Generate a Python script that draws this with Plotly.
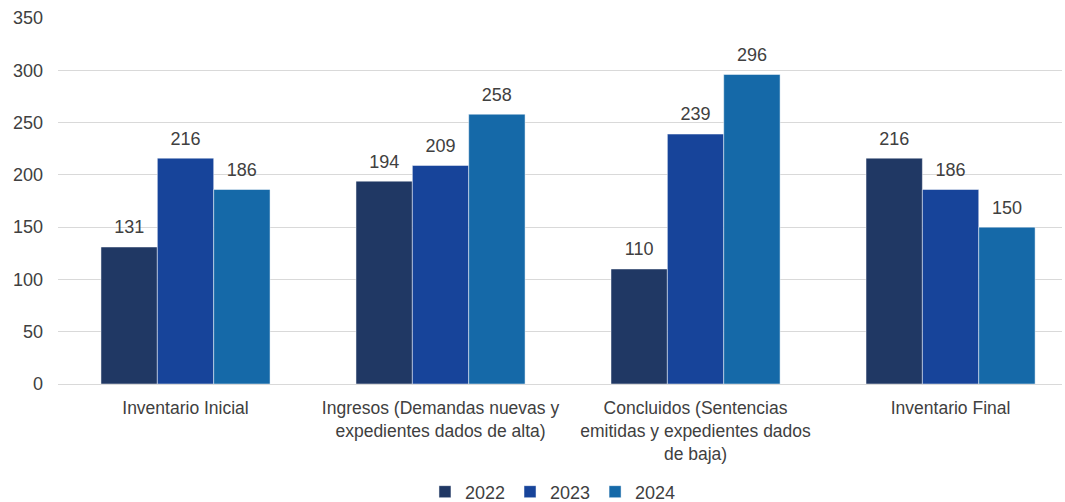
import plotly.graph_objects as go

categories = [
    "Inventario Inicial",
    "Ingresos (Demandas nuevas y<br>expedientes dados de alta)",
    "Concluidos (Sentencias<br>emitidas y expedientes dados<br>de baja)",
    "Inventario Final",
]
years = ["2022", "2023", "2024"]
v2022 = [131, 194, 110, 216]
v2023 = [216, 209, 239, 186]
v2024 = [186, 258, 296, 150]
colors = ["#203864", "#17449a", "#1569a8"]

FONT = "Liberation Sans, Arial, sans-serif"

fig = go.Figure()
for name, vals, col in zip(years, [v2022, v2023, v2024], colors):
    fig.add_trace(go.Bar(
        name=name, x=categories, y=vals, offsetgroup=name,
        marker=dict(color=col, line=dict(color="rgba(255,255,255,0.6)", width=0.8)),
    ))
# value labels, grouped the same way as the bars (invisible markers push text up)
for name, vals in zip(years, [v2022, v2023, v2024]):
    fig.add_trace(go.Scatter(
        x=categories, y=vals, offsetgroup=name, mode="markers+text", text=vals,
        textposition="top center", showlegend=False, hoverinfo="skip",
        marker=dict(size=13, color="rgba(0,0,0,0)"), cliponaxis=False,
        textfont=dict(size=18, color="#404040", family=FONT),
    ))

fig.update_layout(
    barmode="group", bargap=0.337, bargroupgap=0,
    scattermode="group", scattergap=0.337,
    width=1065, height=502,
    margin=dict(l=58, r=3, t=18, b=118, autoexpand=False),
    plot_bgcolor="white", paper_bgcolor="white",
    font=dict(family=FONT, color="#404040", size=18),
    legend=dict(orientation="h", x=0.493, xanchor="center", y=-0.295, yanchor="middle",
                font=dict(size=18, color="#404040"), itemwidth=30, traceorder="normal"),
    showlegend=True,
)
fig.update_yaxes(range=[0, 350], dtick=50, showgrid=True, gridcolor="#d9d9d9", gridwidth=1,
                 zeroline=False, showline=False, ticks="", ticklabelstandoff=14,
                 tickfont=dict(size=18, color="#404040"))
fig.update_xaxes(range=[-0.5, 3.437], showline=True, linecolor="#d9d9d9", linewidth=1,
                 ticks="", ticklabelstandoff=8, tickfont=dict(size=17.5, color="#404040"))

fig.write_html("out.html", config={"displayModeBar": False},
               post_script="document.body.style.margin='0';")
